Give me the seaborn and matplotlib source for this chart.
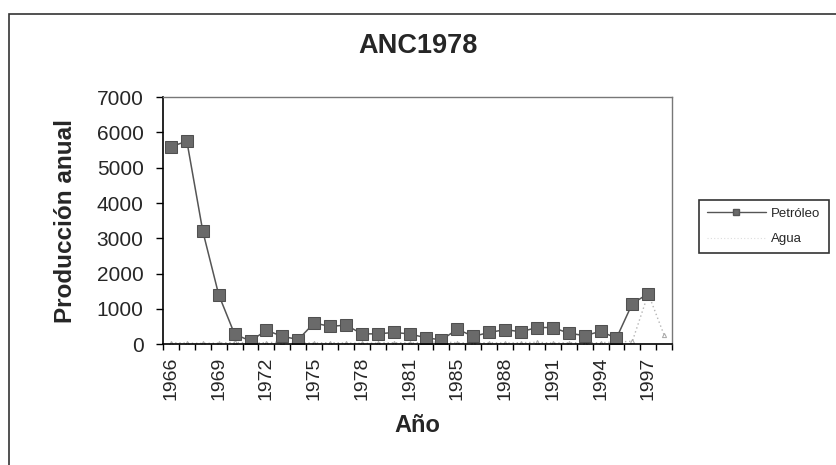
import numpy as np
import pandas as pd
import matplotlib
matplotlib.use("Agg")
import matplotlib.pyplot as plt
import seaborn as sns
from matplotlib.lines import Line2D
from matplotlib.patches import Rectangle

# years on the category axis (1982 is not in the series)
years = list(range(1966, 1982)) + list(range(1983, 1999))

# annual production
petroleo = [5600, 5750, 3200, 1400, 280, 90, 390, 220, 130, 600, 500, 540,
            290, 290, 330, 290, 180, 120, 420, 220, 330, 410, 350, 470,
            470, 310, 240, 360, 170, 1150, 1430, np.nan]
agua = [40, 30, 20, 30, 50, 30, 40, 60, 40, 30, 40, 30,
        20, 30, 40, 30, 50, 60, 40, 30, 40, 30, 40, 50,
        30, 40, 30, 40, 60, 80, 1430, 250]

df = pd.DataFrame({"idx": range(len(years)), "Año": years,
                   "Petróleo": petroleo, "Agua": agua})

sns.set_style("white")
plt.rcParams["font.family"] = ["Liberation Sans", "DejaVu Sans"]

fig = plt.figure(figsize=(8.36, 4.65), dpi=100)
ax = fig.add_axes([0.195, 0.26, 0.609, 0.531])

# outer chart frame (only top and left show in the scan)
fig.patches.append(Rectangle((0.011, -0.2), 1.2, 1.17, transform=fig.transFigure,
                             fill=False, edgecolor="#333333", lw=1.2))

sns.lineplot(data=df, x="idx", y="Agua", ax=ax, color="#b5b5b5", lw=1,
             linestyle=(0, (1, 2)), marker="^", markersize=3,
             markeredgecolor="#aaaaaa", markerfacecolor="none")
sns.lineplot(data=df, x="idx", y="Petróleo", ax=ax, color="#555555", lw=1.1,
             marker="s", markersize=8, markerfacecolor="#6a6a6a",
             markeredgecolor="#505050")

ax.set_xlim(-0.5, len(years) - 0.5)
ax.set_ylim(0, 7000)
ax.set_yticks(range(0, 7001, 1000))
ax.set_yticklabels([str(v) for v in range(0, 7001, 1000)], fontsize=15)

lab_idx = list(range(0, len(years), 3))
ax.set_xticks(lab_idx)
ax.set_xticklabels([str(years[i]) for i in lab_idx], rotation=90, fontsize=14)
ax.set_xticks(np.arange(-0.5, len(years), 1), minor=True)
ax.tick_params(axis="x", which="major", length=0, pad=9)
ax.tick_params(axis="x", which="minor", length=4, width=1, direction="out",
               color="black", bottom=True)
ax.tick_params(axis="y", length=5, width=1, direction="out", color="black",
               left=True, pad=9)

for s in ["left", "bottom"]:
    ax.spines[s].set_color("black")
    ax.spines[s].set_linewidth(1.2)
for s in ["top", "right"]:
    ax.spines[s].set_color("#777777")
    ax.spines[s].set_linewidth(1)

ax.set_xlabel("Año", fontsize=17, fontweight="bold", labelpad=10)
ax.set_ylabel("Producción anual", fontsize=17.5, fontweight="bold", labelpad=14)
ax.set_title("ANC1978", fontsize=19.5, fontweight="bold", pad=32)

handles = [Line2D([], [], color="#555555", lw=1, marker="s", markersize=5,
                  markerfacecolor="#6a6a6a"),
           Line2D([], [], color="#dddddd", lw=0.8, linestyle=(0, (1, 2)))]
leg = fig.legend(handles, ["Petróleo", "Agua"], loc="center left",
                 bbox_to_anchor=(0.828, 0.513), fontsize=9.5, frameon=True,
                 fancybox=False, edgecolor="black", handlelength=4.5,
                 borderpad=0.6, labelspacing=1.0, handletextpad=0.4)
leg.get_frame().set_linewidth(1.2)

fig.savefig("out.png", dpi=100)
